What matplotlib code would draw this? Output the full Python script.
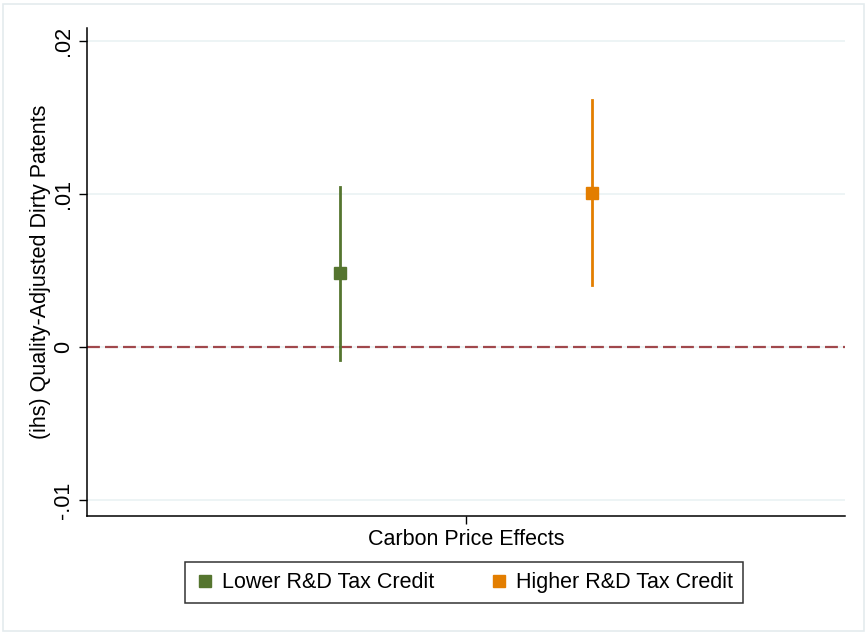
import numpy as np
import matplotlib.pyplot as plt
from matplotlib.patches import Rectangle
from matplotlib.lines import Line2D

plt.rcParams['font.family'] = ['Liberation Sans', 'DejaVu Sans']

# estimates
groups = ['Lower R&D Tax Credit', 'Higher R&D Tax Credit']
coef = [0.00484, 0.01007]
ci_low = [-0.00085, 0.00405]
ci_high = [0.01046, 0.01614]
colors = ['#55752f', '#e37e00']
yticks = [-0.01, 0.0, 0.01, 0.02]
ytick_labels = ['-.01', '0', '.01', '.02']
xlabel = 'Carbon Price Effects'
ylabel = '(ihs) Quality-Adjusted Dirty Patents'

fs = 15.5

fig = plt.figure(figsize=(8.67, 6.35), dpi=100)
# light outer frame like the Stata graph region
fig.patches.append(Rectangle((0.004, 0.006), 0.992, 0.988, transform=fig.transFigure,
                             fill=False, edgecolor='#e4ebee', lw=1.2))
ax = fig.add_axes([0.1003, 0.1874, 0.8743, 0.7686])

offsets = [-0.2, 0.2]
for i in range(len(groups)):
    ax.plot([offsets[i], offsets[i]], [ci_low[i], ci_high[i]], color=colors[i], lw=2, zorder=3)
    ax.plot(offsets[i], coef[i], 's', color=colors[i], ms=9, zorder=4)

ax.axhline(0, color='#a0484c', lw=1.6, ls=(0, (5.8, 2.3)), zorder=2)

ax.set_xlim(-0.6, 0.6)
ax.set_ylim(-0.01105, 0.02085)
ax.set_yticks(yticks)
ax.set_yticklabels(ytick_labels, rotation=90, va='center')
ax.set_xticks([0])
ax.set_xticklabels([''])
ax.set_xlabel(xlabel, fontsize=fs, labelpad=0)
ax.set_ylabel(ylabel, fontsize=fs, labelpad=1)
ax.tick_params(axis='both', labelsize=fs, length=6, width=1, color='black')
ax.grid(axis='y', color='#eaf2f3', lw=1.2, zorder=0)
ax.set_axisbelow(True)
ax.spines['top'].set_visible(False)
ax.spines['right'].set_visible(False)
ax.spines['left'].set_linewidth(1.1)
ax.spines['bottom'].set_linewidth(1.1)

handles = [Line2D([], [], marker='s', ls='', color=c, ms=9) for c in colors]
leg = fig.legend(handles, groups, loc='center', bbox_to_anchor=(0.535, 0.0825), ncol=2,
                 fontsize=fs, frameon=True, fancybox=False, edgecolor='black',
                 handletextpad=0.3, columnspacing=2.5, borderpad=0.45, handlelength=1.0)
leg.get_frame().set_linewidth(1.1)

fig.savefig('out.png', dpi=100)
